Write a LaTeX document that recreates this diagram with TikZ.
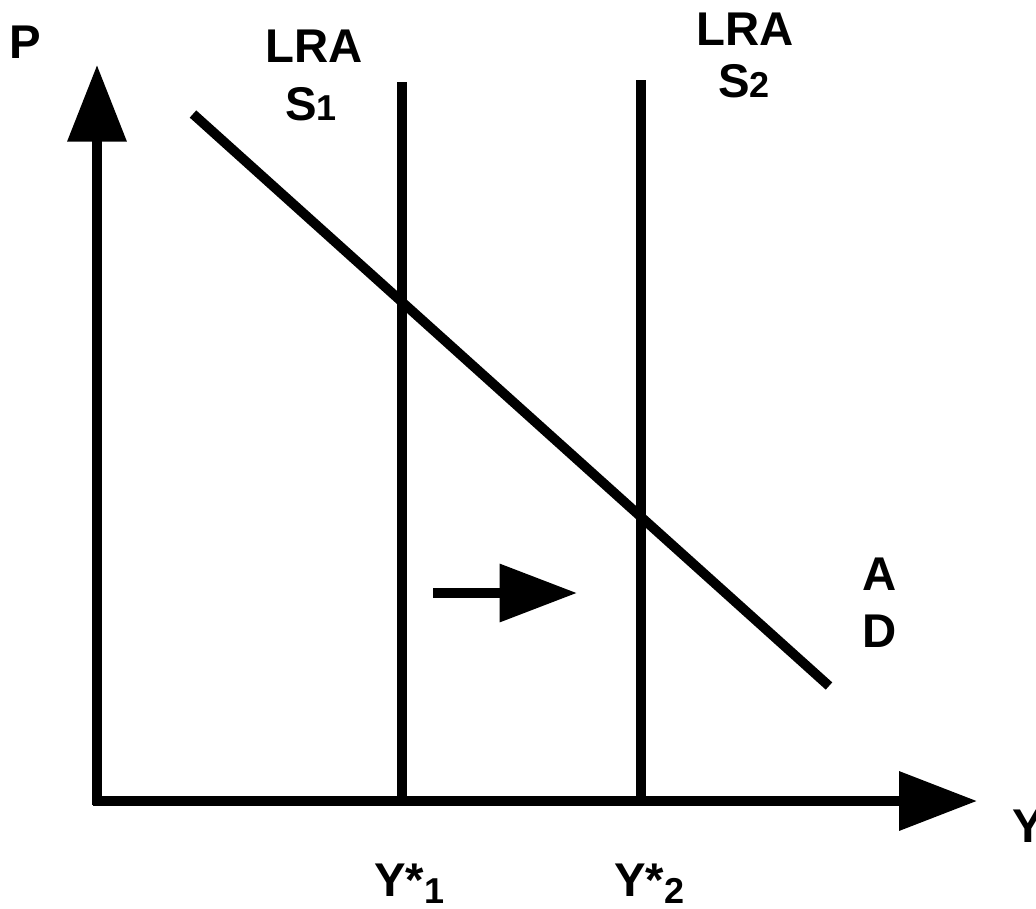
\documentclass[tikz,border=0pt]{standalone}
\usepackage{fontspec}
\setmainfont{Liberation Sans}
\usetikzlibrary{arrows.meta}
\begin{document}
\begin{tikzpicture}[x=0.75pt,y=-0.75pt,
  lbl/.style={font=\fontsize{35.5}{40}\selectfont\bfseries, inner sep=0pt, anchor=base},
  axis/.style={line width=6.9pt},
  curve/.style={line width=7.3pt}]
\useasboundingbox (0,0) rectangle (1036,908);
% coordinates
\coordinate (Ybot) at (97,805);
\coordinate (Ytop) at (97,65);
\coordinate (Xstart) at (93,801);
\coordinate (Xend) at (977,801);
\coordinate (L1top) at (402,82);
\coordinate (L1bot) at (402,801);
\coordinate (L2top) at (641,80);
\coordinate (L2bot) at (641,801);
\coordinate (ADa) at (193,114);
\coordinate (ADb) at (829,686);
\coordinate (Sa) at (433,593);
\coordinate (Sb) at (577,593);
% axes
\draw[axis,-{Triangle[length=57.5pt,width=43pt]}] (Ybot) -- (Ytop);
\draw[axis,-{Triangle[length=58.5pt,width=43pt]}] (Xstart) -- (Xend);
% LRAS lines
\draw[axis] (L1top) -- (L1bot);
\draw[axis] (L2top) -- (L2bot);
% AD
\draw[curve] (ADa) -- (ADb);
% shift arrow
\draw[curve,-{Triangle[length=58pt,width=42pt]}] (Sa) -- (Sb);
% labels
\node[lbl] (P) at (25,58) {P};
\node[lbl] (lra1) at (314,62) {LRA};
\node[lbl] (s1) at (311,120) {S{\fontsize{27}{30}\selectfont 1}};
\node[lbl] (lra2) at (745,45) {LRA};
\node[lbl] (s2) at (744,97) {S{\fontsize{27}{30}\selectfont 2}};
\node[lbl] (A) at (880,590) {A};
\node[lbl] (D) at (880,647) {D};
\node[lbl,anchor=base west] (Y) at (1012,842) {Y};
\node[lbl,anchor=base west] (y1) at (374,896) {Y*\raisebox{-0.15em}{\fontsize{27}{30}\selectfont 1}};
\node[lbl,anchor=base west] (y2) at (614,896) {Y*\raisebox{-0.15em}{\fontsize{27}{30}\selectfont 2}};
\end{tikzpicture}
\end{document}
